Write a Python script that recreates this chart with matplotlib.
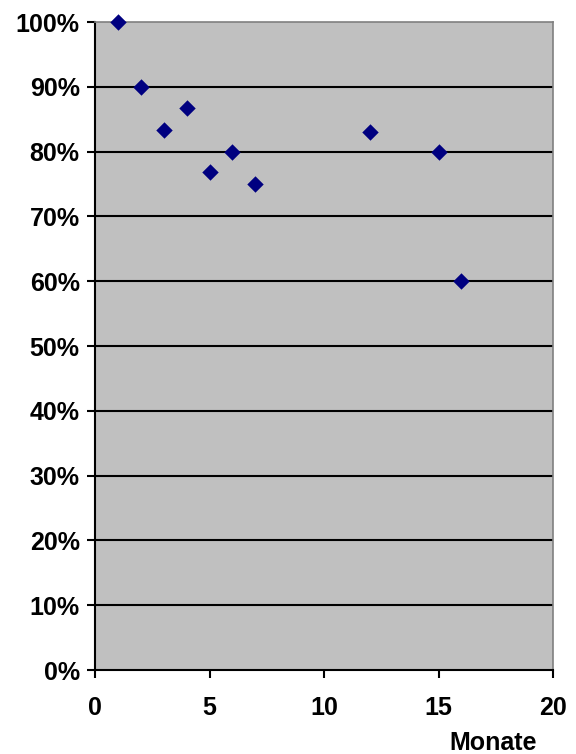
import matplotlib
matplotlib.use("Agg")
import matplotlib.pyplot as plt
from matplotlib.ticker import FuncFormatter

plt.rcParams['font.family'] = ['Liberation Sans', 'DejaVu Sans']

monate = [1, 2, 3, 4, 5, 6, 7, 12, 15, 16]
anteil = [100, 90, 83.3, 86.7, 76.9, 80, 75, 83, 80, 60]
x_ticks = [0, 5, 10, 15, 20]
y_ticks = [0, 10, 20, 30, 40, 50, 60, 70, 80, 90, 100]

fig = plt.figure(figsize=(5.76, 7.54), dpi=100)
ax = fig.add_axes([95/576, 1 - 670/754, (553 - 95)/576, (670 - 22)/754])
ax.set_facecolor('#c0c0c0')

ax.set_xlim(0, 20)
ax.set_ylim(0, 100)
ax.set_xticks(x_ticks)
ax.set_yticks(y_ticks)
ax.yaxis.set_major_formatter(FuncFormatter(lambda v, p: f"{int(v)}%"))

for y in y_ticks[1:-1]:
    ax.axhline(y, color='black', lw=1.5, zorder=1)

ax.scatter(monate, anteil, marker='D', s=70, color='#000080', zorder=3,
           clip_on=False, linewidths=0)

for side in ('left', 'bottom'):
    ax.spines[side].set_color('black')
    ax.spines[side].set_linewidth(1.5)
for side in ('top', 'right'):
    ax.spines[side].set_color('#808080')
    ax.spines[side].set_linewidth(1.2)

ax.tick_params(axis='both', direction='out', length=6, width=1.5, color='black',
               labelsize=18)
ax.tick_params(axis='y', pad=5)
ax.tick_params(axis='x', pad=13)
for lab in ax.get_xticklabels() + ax.get_yticklabels():
    lab.set_fontweight('bold')

fig.text(537/576, 1 - 743/754, 'Monate', ha='right', va='center',
         fontsize=18, fontweight='bold')

fig.savefig('out.png', dpi=100)
